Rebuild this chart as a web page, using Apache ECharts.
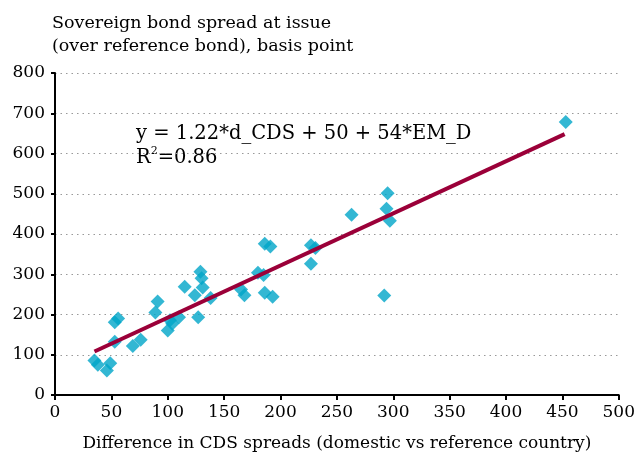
<!DOCTYPE html>
<html>
<head>
<meta charset="utf-8">
<script src="https://cdn.jsdelivr.net/npm/echarts@6/dist/echarts.min.js"></script>
<style>
html,body{margin:0;padding:0;background:#fff;}
#c{width:638px;height:457px;}
</style>
</head>
<body>
<div id="c"></div>
<script>
// Data
var cdsDiff = [453,295,294,297,263,227,231,227,292,186,191,180,185,186,193,129,130,131,115,124,138,165,168,127,91,89,102,100,104,110,35,38,49,46,53,76,69,53,56];
var bondSpread = [678,501,463,433,448,372,365,326,247,376,369,304,298,254,244,306,290,267,269,248,241,262,248,193,232,205,186,160,177,193,86,75,79,61,132,137,122,181,190];
var fitX = [35,452];
var fitY = [108,648];
var xTicks = [0,50,100,150,200,250,300,350,400,450,500];
var yTicks = [0,100,200,300,400,500,600,700,800];
var yTitle = ['Sovereign bond spread at issue','(over reference bond), basis point'];
var xTitle = 'Difference in CDS spreads (domestic vs reference country)';
var eqText = 'y = 1.22*d_CDS + 50 + 54*EM_D';

var FONT = '"DejaVu Serif", "Liberation Serif", serif';
var chart = echarts.init(document.getElementById('c'), null, {renderer:'canvas'});
var pts = cdsDiff.map(function(x,i){return [x, bondSpread[i]];});
var fit = fitX.map(function(x,i){return [x, fitY[i]];});

chart.setOption({
  animation:false,
  backgroundColor:'#fff',
  grid:{left:55,right:17,top:73,bottom:62,containLabel:false},
  xAxis:{
    type:'value', min:xTicks[0], max:xTicks[xTicks.length-1], interval:50,
    axisLine:{show:true,onZero:false,lineStyle:{color:'#000',width:2}},
    axisTick:{show:true,length:5,lineStyle:{color:'#000',width:2}},
    axisLabel:{color:'#000',fontFamily:FONT,fontSize:17,margin:9},
    splitLine:{show:false},
    name:xTitle, nameLocation:'middle', nameGap:40,
    nameTextStyle:{color:'#000',fontFamily:FONT,fontSize:17}
  },
  yAxis:{
    type:'value', min:yTicks[0], max:yTicks[yTicks.length-1], interval:100,
    axisLine:{show:true,lineStyle:{color:'#000',width:2}},
    axisTick:{show:true,length:4,lineStyle:{color:'#000',width:2}},
    axisLabel:{color:'#000',fontFamily:FONT,fontSize:17,margin:10},
    splitLine:{show:true,lineStyle:{color:'#999',width:1,type:[1.5,4]}}
  },
  graphic:[
    {type:'text',left:52,top:12,style:{text:yTitle.join('\n'),fontFamily:FONT,fontSize:17.5,lineHeight:23,fill:'#000'}},
    {type:'text',left:136,top:122,style:{
      text:eqText+'\n{r|R}{s|2}{r|=0.86}',
      fontFamily:FONT,fontSize:19.5,lineHeight:24,fill:'#000',
      rich:{r:{fontFamily:FONT,fontSize:19.5,fill:'#000'},s:{fontFamily:FONT,fontSize:11,verticalAlign:'top',padding:[0,0,8,0]}}
    }}
  ],
  series:[
    {type:'scatter',data:pts,symbol:'diamond',symbolSize:14,itemStyle:{color:'#00A5C8'},z:2},
    {type:'line',data:fit,symbol:'none',lineStyle:{color:'#9B0039',width:4},z:3}
  ]
});
</script>
</body>
</html>
